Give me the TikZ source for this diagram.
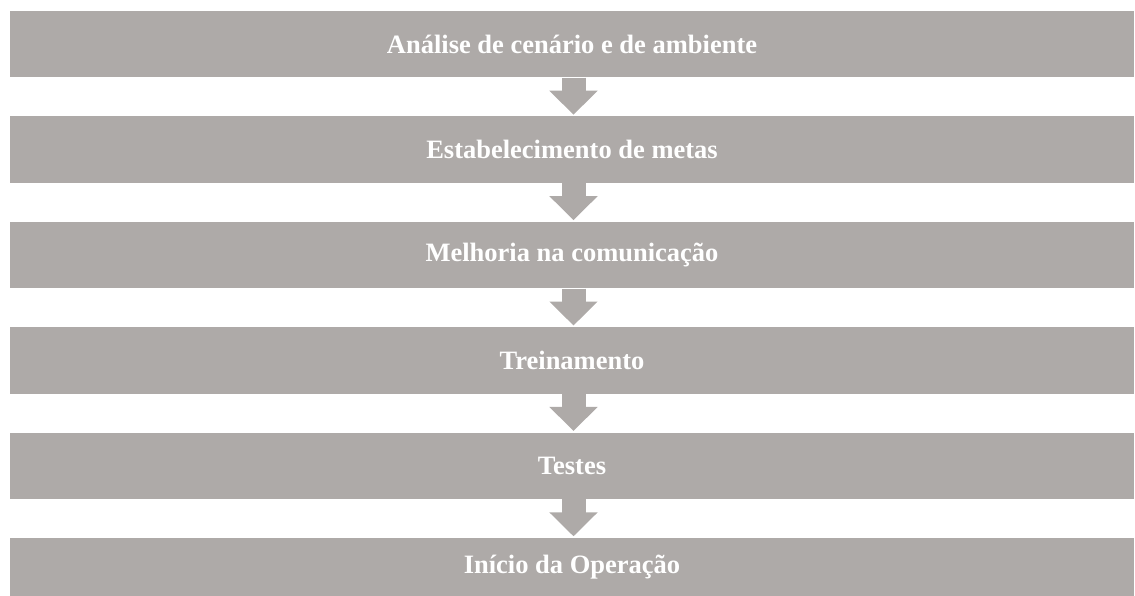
\documentclass[tikz,border=0pt]{standalone}
\usepackage{fontspec}
\setmainfont{Liberation Serif}
\usetikzlibrary{arrows.meta}
\definecolor{boxgray}{RGB}{174,170,168}
\begin{document}
\begin{tikzpicture}[x=1pt,y=-1pt,
  stagebox/.style={rectangle, fill=boxgray, draw=none, text=white,
    minimum width=1124pt, minimum height=66.5pt, inner sep=0pt,
    font=\fontsize{26.5}{30}\selectfont\bfseries},
  flowarrow/.style={draw=boxgray, line width=24pt,
    -{Triangle[width=47pt,length=24pt]}, shorten >=1.5pt}]
\useasboundingbox (0,0) rectangle (1135,596);
\node[stagebox] (b1) at (572,44.25) {Análise de cenário e de ambiente};
\node[stagebox] (b2) at (572,149.65) {Estabelecimento de metas};
\node[stagebox] (b3) at (572,255.05) {Melhoria na comunicação};
\node[stagebox] (b4) at (572,360.45) {Treinamento};
\node[stagebox] (b5) at (572,465.85) {Testes};
\node[stagebox, minimum height=58pt] (b6) at (572,567) {Início da Operação};
\draw[flowarrow] ([xshift=1.5pt]b1.south) -- ([xshift=1.5pt]b2.north);
\draw[flowarrow] ([xshift=1.5pt]b2.south) -- ([xshift=1.5pt]b3.north);
\draw[flowarrow] ([xshift=1.5pt]b3.south) -- ([xshift=1.5pt]b4.north);
\draw[flowarrow] ([xshift=1.5pt]b4.south) -- ([xshift=1.5pt]b5.north);
\draw[flowarrow] ([xshift=1.5pt]b5.south) -- ([xshift=1.5pt]b6.north);
\end{tikzpicture}
\end{document}
